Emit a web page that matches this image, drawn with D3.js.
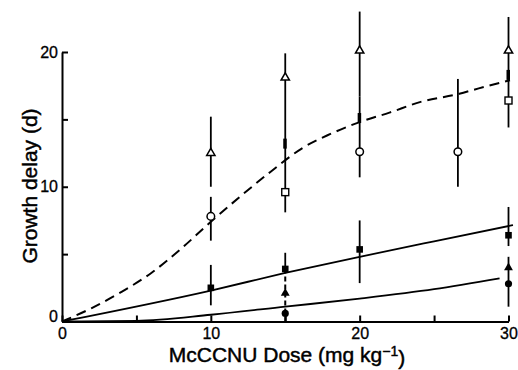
<!DOCTYPE html>
<html>
<head>
<meta charset="utf-8">
<script src="https://cdn.jsdelivr.net/npm/d3@7"></script>
<style>
  body { margin: 0; background: #fff; }
  svg { display: block; font-family: "Liberation Sans", Arial, Helvetica, sans-serif; }
  .axis path, .axis line { stroke: #000; stroke-width: 2; }
  .axis text { font-size: 16px; fill: #000; stroke: #000; stroke-width: 0.3; }
  .title { fill: #000; stroke: #000; stroke-width: 0.45; }
</style>
</head>
<body>
<div id="chart"></div>
<script>
// tick labels
var doseTicks = [0, 5, 10, 15, 20, 25, 30];
var doseLabels = [0, 10, 20, 30];
var delayTicks = [0, 5, 10, 15, 20];
var delayLabels = [0, 10, 20];

// points: [dose, growth delay]
var openTriangles = [[10, 12.5], [15, 18.1], [20, 20.1], [30, 20.1]];
var openCircles = [[10, 7.8], [20, 12.6], [26.6, 12.6]];
var openSquares = [[15, 9.6], [30, 16.4]];
var filledSquares = [[10, 2.5], [15, 3.9], [20, 5.35], [30, 6.4]];
var filledTriangles = [[15, 2.1], [30, 4.0]];
var filledCircles = [[15, 0.6], [30, 2.8]];
// the thick half-printed marks sitting on some bars
var thickMarks = [[15, 13.2], [20, 15.1], [30, 18.3]];

// error bars: [dose, low, high]
var errorBars = [
  [10, 10.0, 15.2], [10, 6.0, 9.25], [10, 1.2, 4.2],
  [15, 8.1, 19.9], [15, 3.9, 5.1],
  [20, 16.7, 23.0], [20, 10.7, 16.7], [20, 2.85, 7.5],
  [26.6, 10.0, 18.0],
  [30, 14.4, 22.6], [30, 5.6, 8.5], [30, 1.1, 4.8]
];
var dashedBars = [[15, 0, 3.9]];

// fitted curves
var dashCurve = [[0, 0], [2, 1.0], [4, 2.2], [6, 3.6], [8, 5.4], [10, 7.4], [12, 9.3], [14, 11.1],
  [16.2, 12.9], [18, 13.9], [20, 14.8], [22, 15.5], [24.1, 16.3], [26.7, 16.9], [28, 17.3], [30.1, 17.9]];
var upperLine = [[0, 0], [10, 2.3], [15, 3.6], [20, 4.8], [25, 5.95], [30.3, 7.15]];
var lowerLine = [[0, 0], [5, 0.05], [10, 0.5], [15, 1.1], [20, 1.7], [25, 2.4], [29.4, 3.2]];

var width = 518, height = 370;

var svg = d3.select("#chart").append("svg")
  .attr("width", width)
  .attr("height", height);

var x = d3.scaleLinear().domain([0, 30]).range([62, 508.5]);
var y = d3.scaleLinear().domain([0, 20]).range([321.5, 52]);

// axes, ticks point inward
var xAxis = d3.axisBottom(x)
  .tickValues(doseTicks)
  .tickSizeInner(-6)
  .tickSizeOuter(0)
  .tickPadding(6)
  .tickFormat(function (d) { return doseLabels.indexOf(d) >= 0 ? d : ""; });

var yAxis = d3.axisLeft(y)
  .tickValues(delayTicks)
  .tickSizeInner(-6)
  .tickSizeOuter(0)
  .tickPadding(4)
  .tickFormat(function (d) { return delayLabels.indexOf(d) >= 0 ? d : ""; });

svg.append("g")
  .attr("class", "axis")
  .attr("transform", "translate(0," + y(0) + ")")
  .call(xAxis);

var gy = svg.append("g")
  .attr("class", "axis")
  .attr("transform", "translate(" + x(0) + ",0)")
  .call(yAxis);

// the zero on the y axis sits a little above the corner
gy.selectAll(".tick text")
  .filter(function (d) { return d === 0; })
  .attr("dy", "0.0em");

// curves
var line = d3.line()
  .x(function (d) { return x(d[0]); })
  .y(function (d) { return y(d[1]); })
  .curve(d3.curveMonotoneX);

svg.append("path")
  .attr("d", line(dashCurve))
  .attr("fill", "none")
  .attr("stroke", "#000")
  .attr("stroke-width", 2)
  .attr("stroke-dasharray", "10,6");

[upperLine, lowerLine].forEach(function (pts) {
  svg.append("path")
    .attr("d", line(pts))
    .attr("fill", "none")
    .attr("stroke", "#000")
    .attr("stroke-width", 1.8);
});

// error bars
svg.selectAll(".err")
  .data(errorBars).enter().append("line")
  .attr("class", "err")
  .attr("x1", function (d) { return x(d[0]); })
  .attr("x2", function (d) { return x(d[0]); })
  .attr("y1", function (d) { return y(d[1]); })
  .attr("y2", function (d) { return y(d[2]); })
  .attr("stroke", "#000")
  .attr("stroke-width", 1.8);

svg.selectAll(".errd")
  .data(dashedBars).enter().append("line")
  .attr("class", "errd")
  .attr("x1", function (d) { return x(d[0]); })
  .attr("x2", function (d) { return x(d[0]); })
  .attr("y1", function (d) { return y(d[1]); })
  .attr("y2", function (d) { return y(d[2]); })
  .attr("stroke", "#000")
  .attr("stroke-width", 2)
  .attr("stroke-dasharray", "5,3");

svg.selectAll(".thick")
  .data(thickMarks).enter().append("rect")
  .attr("class", "thick")
  .attr("x", function (d) { return x(d[0]) - 2; })
  .attr("y", function (d) { return y(d[1]) - 5; })
  .attr("width", 3.5)
  .attr("height", 10)
  .attr("fill", "#000");

// markers
var tri = d3.symbol().type(d3.symbolTriangle);

svg.selectAll(".otri")
  .data(openTriangles).enter().append("path")
  .attr("class", "otri")
  .attr("d", tri.size(30))
  .attr("transform", function (d) { return "translate(" + x(d[0]) + "," + y(d[1]) + ")"; })
  .attr("fill", "#fff")
  .attr("stroke", "#000")
  .attr("stroke-width", 1.5);

svg.selectAll(".ftri")
  .data(filledTriangles).enter().append("path")
  .attr("class", "ftri")
  .attr("d", tri.size(34))
  .attr("transform", function (d) { return "translate(" + x(d[0]) + "," + y(d[1]) + ")"; })
  .attr("fill", "#000");

svg.selectAll(".ocirc")
  .data(openCircles).enter().append("circle")
  .attr("class", "ocirc")
  .attr("cx", function (d) { return x(d[0]); })
  .attr("cy", function (d) { return y(d[1]); })
  .attr("r", 3.8)
  .attr("fill", "#fff")
  .attr("stroke", "#000")
  .attr("stroke-width", 1.5);

svg.selectAll(".fcirc")
  .data(filledCircles).enter().append("circle")
  .attr("class", "fcirc")
  .attr("cx", function (d) { return x(d[0]); })
  .attr("cy", function (d) { return y(d[1]); })
  .attr("r", 3.6)
  .attr("fill", "#000");

svg.selectAll(".osq")
  .data(openSquares).enter().append("rect")
  .attr("class", "osq")
  .attr("x", function (d) { return x(d[0]) - 3.5; })
  .attr("y", function (d) { return y(d[1]) - 3.5; })
  .attr("width", 7)
  .attr("height", 7)
  .attr("fill", "#fff")
  .attr("stroke", "#000")
  .attr("stroke-width", 1.4);

svg.selectAll(".fsq")
  .data(filledSquares).enter().append("rect")
  .attr("class", "fsq")
  .attr("x", function (d) { return x(d[0]) - 3.3; })
  .attr("y", function (d) { return y(d[1]) - 3.3; })
  .attr("width", 6.6)
  .attr("height", 6.6)
  .attr("fill", "#000");

// axis titles
svg.append("text")
  .attr("class", "title")
  .attr("transform", "translate(36.5,186) rotate(-90)")
  .attr("text-anchor", "middle")
  .style("font-size", "21px")
  .text("Growth delay (d)");

var xt = svg.append("text")
  .attr("class", "title")
  .attr("x", 287)
  .attr("y", 362)
  .attr("text-anchor", "middle")
  .style("font-size", "21px");
xt.append("tspan").text("McCCNU Dose (mg kg");
xt.append("tspan").attr("dy", "-0.45em").style("font-size", "14px").text("\u22121");
xt.append("tspan").attr("dy", "0.45em").text(")");
</script>
</body>
</html>
